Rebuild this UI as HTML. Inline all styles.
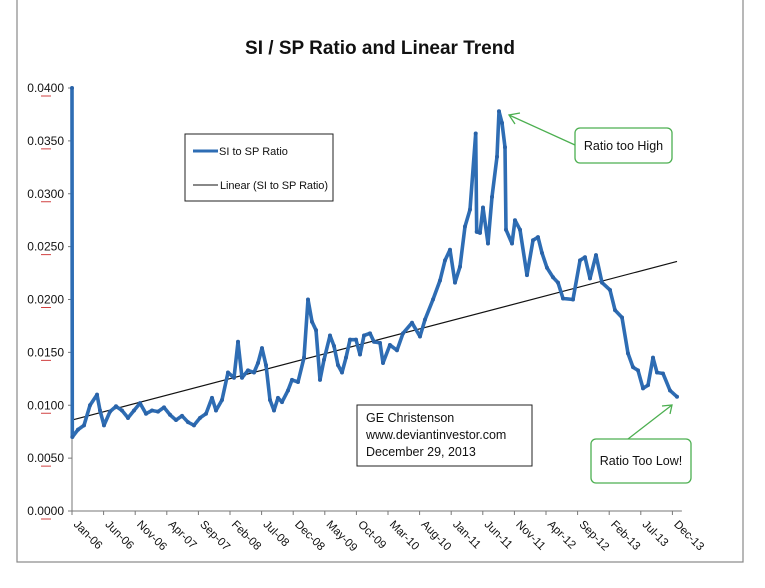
<!DOCTYPE html>
<html><head><meta charset="utf-8">
<style>
html,body{margin:0;padding:0;background:#fff;}
svg{display:block;font-family:"Liberation Sans",sans-serif;}
</style></head>
<body>
<svg id="chart" width="765" height="588" viewBox="0 0 765 588">
  <rect x="17" y="-2" width="726" height="564" fill="#fff" stroke="#888" stroke-width="1.2"/>
  <text x="380" y="54" text-anchor="middle" font-size="19" font-weight="bold" fill="#111">SI / SP Ratio and Linear Trend</text>
  <g id="yaxis"></g>
  <g id="xaxis"></g>
  <g id="series"></g>
  <g>
    <rect x="185" y="134" width="148" height="67" fill="#fff" stroke="#222" stroke-width="1"/>
    <line x1="193" y1="151" x2="218" y2="151" stroke="#2e6db4" stroke-width="3"/>
    <text x="219" y="155" font-size="11" fill="#111">SI to SP Ratio</text>
    <line x1="193" y1="185" x2="218" y2="185" stroke="#111" stroke-width="1"/>
    <text x="220" y="189" font-size="11" fill="#111" textLength="108">Linear (SI to SP Ratio)</text>
  </g>
  <g>
    <rect x="357" y="405" width="175" height="61" fill="#fff" stroke="#222" stroke-width="1"/>
    <text x="366" y="422" font-size="12.5" fill="#111">GE Christenson</text>
    <text x="366" y="439" font-size="12.5" fill="#111">www.deviantinvestor.com</text>
    <text x="366" y="456" font-size="12.5" fill="#111">December 29, 2013</text>
  </g>
  <g>
    <line x1="575" y1="145" x2="509" y2="115" stroke="#4caf50" stroke-width="1.3"/>
    <polyline points="520,113 509,115 515,124" fill="none" stroke="#4caf50" stroke-width="1.3"/>
    <rect x="575" y="128" width="97" height="35" rx="5" fill="#fff" stroke="#4caf50" stroke-width="1.3"/>
    <text x="623.5" y="150" text-anchor="middle" font-size="12.5" fill="#111">Ratio too High</text>
  </g>
  <g>
    <line x1="628" y1="439" x2="672" y2="405" stroke="#4caf50" stroke-width="1.3"/>
    <polyline points="662,406 672,405 670,414" fill="none" stroke="#4caf50" stroke-width="1.3"/>
    <rect x="591" y="439" width="100" height="44" rx="5" fill="#fff" stroke="#4caf50" stroke-width="1.3"/>
    <text x="641" y="465" text-anchor="middle" font-size="12.5" fill="#111">Ratio Too Low!</text>
  </g>
</svg>
<script>
const yTicks = [0, 0.005, 0.01, 0.015, 0.02, 0.025, 0.03, 0.035, 0.04];
const yTickLabels = ["0.0000","0.0050","0.0100","0.0150","0.0200","0.0250","0.0300","0.0350","0.0400"];
const xTickMonths = [0,5,10,15,20,25,30,35,40,45,50,55,60,65,70,75,80,85,90,95];
const xTickLabels = ["Jan-06","Jun-06","Nov-06","Apr-07","Sep-07","Feb-08","Jul-08","Dec-08","May-09","Oct-09","Mar-10","Aug-10","Jan-11","Jun-11","Nov-11","Apr-12","Sep-12","Feb-13","Jul-13","Dec-13"];
const months = [0,0.05,0.95,1.9,2.85,3.96,4.43,5.06,6.01,6.96,7.91,8.86,9.81,10.76,11.71,12.66,13.61,14.56,15.51,16.46,17.41,18.35,19.3,20.25,21.2,22.15,22.78,23.73,24.68,25.63,26.27,26.9,27.85,28.8,29.43,30.06,30.7,31.33,31.96,32.59,33.23,34.18,34.81,35.76,36.71,37.34,37.97,38.61,39.24,39.87,40.82,41.46,42.09,42.72,43.35,43.99,44.94,45.57,46.2,47.15,47.78,48.73,49.21,50.3,51.42,52.37,53.8,55.06,55.85,57.12,58.23,59.02,59.81,60.6,61.39,62.18,62.97,63.88,64.04,64.56,65.03,65.82,66.46,67.25,67.56,68.04,68.51,68.67,69.62,70.09,70.89,71.99,72.94,73.73,74.37,75.16,76.11,76.9,77.69,79.27,80.38,81.17,81.96,82.91,83.86,85.13,85.92,87.03,87.97,88.77,89.56,90.35,91.14,91.93,92.56,93.51,94.62,95.73];
const ratios = [0.0400,0.0070,0.0077,0.0081,0.0100,0.0110,0.0095,0.0081,0.0094,0.0099,0.0095,0.0088,0.0095,0.0102,0.0092,0.0095,0.0094,0.0098,0.0091,0.0086,0.0090,0.0084,0.0081,0.0088,0.0092,0.0107,0.0095,0.0105,0.0131,0.0126,0.0160,0.0126,0.0133,0.0131,0.0140,0.0154,0.0138,0.0105,0.0095,0.0107,0.0103,0.0114,0.0124,0.0122,0.0145,0.0200,0.0179,0.0171,0.0124,0.0143,0.0166,0.0156,0.0138,0.0131,0.0145,0.0162,0.0162,0.0148,0.0166,0.0168,0.0160,0.0159,0.0140,0.0157,0.0152,0.0168,0.0178,0.0165,0.0181,0.0200,0.0218,0.0237,0.0247,0.0216,0.0231,0.0269,0.0285,0.0357,0.0264,0.0263,0.0287,0.0253,0.0297,0.0335,0.0378,0.0367,0.0344,0.0266,0.0253,0.0275,0.0266,0.0223,0.0256,0.0259,0.0244,0.0230,0.0221,0.0216,0.0201,0.0200,0.0237,0.0240,0.0220,0.0242,0.0216,0.0209,0.0190,0.0183,0.0149,0.0136,0.0133,0.0116,0.0119,0.0145,0.0131,0.0130,0.0114,0.0108];
const trendStart = 0.0086;
const trendEnd = 0.0236;

const NS = "http://www.w3.org/2000/svg";
const X0 = 72, XPM = 6.32, Y0 = 511, YH = 423, YMAX = 0.04;
function xs(m){ return X0 + m * XPM; }
function ys(v){ return Y0 - v / YMAX * YH; }
function mk(tag, attrs, parent){
  const e = document.createElementNS(NS, tag);
  for (const k in attrs) e.setAttribute(k, attrs[k]);
  parent.appendChild(e); return e;
}
const yaxis = document.getElementById('yaxis');
const xaxis = document.getElementById('xaxis');
const series = document.getElementById('series');

const yl = mk('line', {x1:X0, y1:ys(0), x2:X0, y2:ys(YMAX), stroke:'#777', 'stroke-width':1}, yaxis);


yTicks.forEach((v, i) => {
  const y = ys(v);
  const t = mk('line', {x1:X0-4, y1:y, x2:X0, y2:y, stroke:'#777', 'stroke-width':1}, yaxis);
  
  
  const lab = mk('text', {x:X0-8, y:y+4, 'text-anchor':'end', 'font-size':12, fill:'#111'}, yaxis);
  lab.textContent = yTickLabels[i];
  
  
  const u = mk('line', {x1:41, y1:y+8, x2:51, y2:y+8, stroke:'#d04040', 'stroke-width':1}, yaxis);
  
  
});
const xl = mk('line', {x1:X0, y1:Y0, x2:xs(96.5), y2:Y0, stroke:'#777', 'stroke-width':1}, xaxis);


xTickMonths.forEach((m, i) => {
  const x = xs(m);
  const t = mk('line', {x1:x, y1:Y0, x2:x, y2:Y0+4, stroke:'#777', 'stroke-width':1}, xaxis);
  
  
  const lab = mk('text', {x:x+1, y:Y0+14, 'font-size':11.5, fill:'#111', transform:'rotate(45 '+(x+1)+' '+(Y0+14)+')'}, xaxis);
  lab.textContent = xTickLabels[i];
  
  
});
const trend = mk('line', {x1:xs(0), y1:ys(trendStart), x2:xs(months[months.length-1]), y2:ys(trendEnd), stroke:'#111', 'stroke-width':1.2}, series);


const pts = months.map((m, i) => xs(m).toFixed(1) + ',' + ys(ratios[i]).toFixed(1)).join(' ');
const line = mk('polyline', {points:pts, fill:'none', stroke:'#2e6db4', 'stroke-width':3.6, 'stroke-linejoin':'round'}, series);


months.forEach((m, i) => {
  const p = mk('circle', {cx:xs(m), cy:ys(ratios[i]), r:2, fill:'#2a63a8'}, series);
  
  
});
</script>
</body></html>
